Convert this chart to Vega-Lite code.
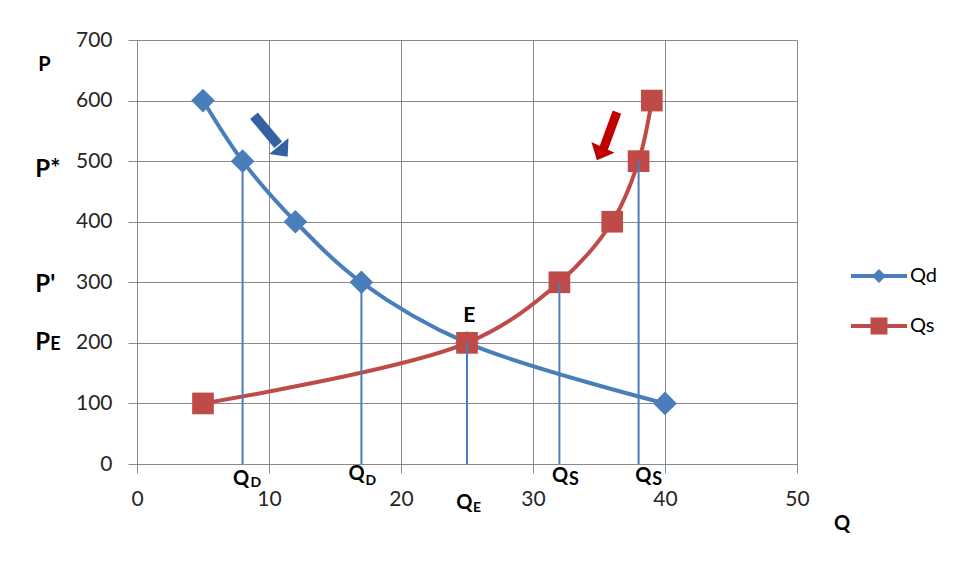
{
  "$schema": "https://vega.github.io/schema/vega-lite/v6.json",
  "width": 660,
  "height": 424,
  "autosize": {"type": "none"},
  "padding": {"left": 137, "top": 40, "right": 158, "bottom": 117},
  "background": "white",
  "config": {
    "font": "Lato",
    "view": {"stroke": null},
    "axis": {
      "gridColor": "#8A8A8A", "gridWidth": 1, "gridOpacity": 1,
      "domainColor": "#8A8A8A", "domainWidth": 1,
      "tickColor": "#8A8A8A", "tickSize": 9, "tickWidth": 1,
      "labelFont": "Lato", "labelFontSize": 21, "labelColor": "#262626"
    }
  },
  "datasets": {
    "curves": [
      {"series": "Qd", "q": 5, "p": 600}, {"series": "Qd", "q": 8, "p": 500}, {"series": "Qd", "q": 12, "p": 400},
      {"series": "Qd", "q": 17, "p": 300}, {"series": "Qd", "q": 25, "p": 200}, {"series": "Qd", "q": 40, "p": 100},
      {"series": "Qs", "q": 5, "p": 100}, {"series": "Qs", "q": 25, "p": 200}, {"series": "Qs", "q": 32, "p": 300},
      {"series": "Qs", "q": 36, "p": 400}, {"series": "Qs", "q": 38, "p": 500}, {"series": "Qs", "q": 39, "p": 600}
    ],
    "drops": [
      {"q": 8, "p": 500}, {"q": 17, "p": 300}, {"q": 25, "p": 200}, {"q": 32, "p": 300}, {"q": 38, "p": 500}
    ],
    "arrowBodies": [
      {"shift": "demand", "q": 8.86, "p": 575, "q2": 10.7, "p2": 527},
      {"shift": "supply", "q": 36.36, "p": 581, "q2": 35.33, "p2": 520}
    ],
    "arrowHeads": [
      {"shift": "demand", "q": 11.08, "p": 516},
      {"shift": "supply", "q": 35.07, "p": 512}
    ],
    "notes": [
      {"group": "pTop", "text": "P", "q": -7.48, "p": 648},
      {"group": "pBig", "text": "P*", "q": -7.7, "p": 474},
      {"group": "pBig", "text": "P'", "q": -7.7, "p": 284.5},
      {"group": "pBig", "text": "P", "q": -7.7, "p": 188},
      {"group": "sub18", "text": "E", "q": -6.57, "p": 188},
      {"group": "q", "text": "Q", "q": 7.27, "p": -35},
      {"group": "q", "text": "Q", "q": 16.03, "p": -27},
      {"group": "q", "text": "Q", "q": 24.19, "p": -75},
      {"group": "q", "text": "Q", "q": 31.44, "p": -30},
      {"group": "q", "text": "Q", "q": 37.75, "p": -30},
      {"group": "q", "text": "Q", "q": 52.8, "p": -109.5},
      {"group": "sub14", "text": "D", "q": 8.6, "p": -37.5},
      {"group": "sub14", "text": "D", "q": 17.32, "p": -34.7},
      {"group": "sub14", "text": "E", "q": 25.45, "p": -78.7},
      {"group": "sub18", "text": "S", "q": 32.72, "p": -34.7},
      {"group": "sub18", "text": "S", "q": 39.03, "p": -34.7},
      {"group": "eq", "text": "E", "q": 25.17, "p": 235}
    ]
  },
  "layer": [
    {
      "data": {"name": "curves"},
      "mark": {"type": "line", "interpolate": "catmull-rom", "strokeWidth": 4},
      "encoding": {
        "x": {"field": "q", "type": "quantitative", "title": null,
              "scale": {"domain": [0, 50], "nice": false, "zero": false},
              "axis": {"values": [0, 10, 20, 30, 40, 50], "labelPadding": 15, "labelFlush": false, "labelOverlap": false}},
        "y": {"field": "p", "type": "quantitative", "title": null,
              "scale": {"domain": [0, 700], "nice": false, "zero": false},
              "axis": {"values": [0, 100, 200, 300, 400, 500, 600, 700], "labelPadding": 16, "labelOverlap": false}},
        "stroke": {"field": "series", "type": "nominal",
                   "scale": {"domain": ["Qs", "Qd"], "range": ["#BE4B48", "#4A7EBB"]}, "legend": null}
      }
    },
    {
      "data": {"name": "curves"},
      "mark": {"type": "point", "filled": true, "opacity": 1, "size": 0},
      "encoding": {
        "x": {"field": "q", "type": "quantitative"},
        "y": {"field": "p", "type": "quantitative"},
        "color": {"field": "series", "type": "nominal",
                  "scale": {"domain": ["Qd", "Qs"], "range": ["#4A7EBB", "#BE4B48"]},
                  "legend": {
                    "title": null, "orient": "none", "legendX": 732, "legendY": 226, "padding": 0,
                    "rowPadding": 30, "labelOffset": 21, "labelFontSize": 20, "labelColor": "#000000",
                    "labelFont": "Lato", "symbolStrokeWidth": 0, "symbolSize": 196, "symbolOpacity": 1
                  }},
        "shape": {"field": "series", "type": "nominal",
                  "scale": {"domain": ["Qd", "Qs"], "range": [
                    "M-4,-0.29L-0.71,-0.29L0,-1L0.71,-0.29L4,-0.29L4,0.29L0.71,0.29L0,1L-0.71,0.29L-4,0.29Z",
                    "M-4,-0.29L-1.21,-0.29L-1.21,-1.21L1.21,-1.21L1.21,-0.29L4,-0.29L4,0.29L1.21,0.29L1.21,1.21L-1.21,1.21L-1.21,0.29L-4,0.29Z"
                  ]}}
      }
    },
    {
      "data": {"name": "curves"},
      "transform": [{"filter": "datum.series === 'Qd'"}],
      "mark": {"type": "point", "filled": true, "opacity": 1, "size": 560, "shape": "diamond", "color": "#4A7EBB"},
      "encoding": {
        "x": {"field": "q", "type": "quantitative"},
        "y": {"field": "p", "type": "quantitative"}
      }
    },
    {
      "data": {"name": "curves"},
      "transform": [{"filter": "datum.series === 'Qs'"}],
      "mark": {"type": "point", "filled": true, "opacity": 1, "size": 470, "shape": "square", "color": "#BE4B48"},
      "encoding": {
        "x": {"field": "q", "type": "quantitative"},
        "y": {"field": "p", "type": "quantitative"}
      }
    },
    {
      "data": {"name": "drops"},
      "mark": {"type": "rule", "color": "#4A7EBB", "strokeWidth": 2},
      "encoding": {
        "x": {"field": "q", "type": "quantitative"},
        "y": {"field": "p", "type": "quantitative"},
        "y2": {"datum": 0}
      }
    },
    {
      "data": {"name": "arrowBodies"},
      "transform": [{"filter": "datum.shift === 'demand'"}],
      "mark": {"type": "rule", "color": "#3462A0", "strokeWidth": 10, "strokeCap": "butt"},
      "encoding": {
        "x": {"field": "q", "type": "quantitative"}, "y": {"field": "p", "type": "quantitative"},
        "x2": {"field": "q2"}, "y2": {"field": "p2"}
      }
    },
    {
      "data": {"name": "arrowBodies"},
      "transform": [{"filter": "datum.shift === 'supply'"}],
      "mark": {"type": "rule", "color": "#C00000", "strokeWidth": 9, "strokeCap": "butt"},
      "encoding": {
        "x": {"field": "q", "type": "quantitative"}, "y": {"field": "p", "type": "quantitative"},
        "x2": {"field": "q2"}, "y2": {"field": "p2"}
      }
    },
    {
      "data": {"name": "arrowHeads"},
      "transform": [{"filter": "datum.shift === 'demand'"}],
      "mark": {"type": "point", "shape": "M0,-0.56L1,0.56L-1,0.56Z", "size": 625, "angle": 140.7, "filled": true, "opacity": 1, "color": "#3462A0"},
      "encoding": {"x": {"field": "q", "type": "quantitative"}, "y": {"field": "p", "type": "quantitative"}}
    },
    {
      "data": {"name": "arrowHeads"},
      "transform": [{"filter": "datum.shift === 'supply'"}],
      "mark": {"type": "point", "shape": "M0,-0.56L1,0.56L-1,0.56Z", "size": 650, "angle": 205, "filled": true, "opacity": 1, "color": "#C00000"},
      "encoding": {"x": {"field": "q", "type": "quantitative"}, "y": {"field": "p", "type": "quantitative"}}
    },
    {
      "data": {"name": "notes"},
      "transform": [{"filter": "datum.group === 'pTop'"}],
      "mark": {"type": "text", "font": "Lato", "fontWeight": "bold", "fontSize": 20, "align": "left", "baseline": "alphabetic", "color": "#000000"},
      "encoding": {"x": {"field": "q", "type": "quantitative"}, "y": {"field": "p", "type": "quantitative"}, "text": {"field": "text"}}
    },
    {
      "data": {"name": "notes"},
      "transform": [{"filter": "datum.group === 'pBig'"}],
      "mark": {"type": "text", "font": "Lato", "fontWeight": "bold", "fontSize": 24, "align": "left", "baseline": "alphabetic", "color": "#000000"},
      "encoding": {"x": {"field": "q", "type": "quantitative"}, "y": {"field": "p", "type": "quantitative"}, "text": {"field": "text"}}
    },
    {
      "data": {"name": "notes"},
      "transform": [{"filter": "datum.group === 'q'"}],
      "mark": {"type": "text", "font": "Lato", "fontWeight": "bold", "fontSize": 20, "align": "left", "baseline": "alphabetic", "color": "#000000"},
      "encoding": {"x": {"field": "q", "type": "quantitative"}, "y": {"field": "p", "type": "quantitative"}, "text": {"field": "text"}}
    },
    {
      "data": {"name": "notes"},
      "transform": [{"filter": "datum.group === 'sub14'"}],
      "mark": {"type": "text", "font": "Lato", "fontWeight": "bold", "fontSize": 14, "align": "left", "baseline": "alphabetic", "color": "#000000"},
      "encoding": {"x": {"field": "q", "type": "quantitative"}, "y": {"field": "p", "type": "quantitative"}, "text": {"field": "text"}}
    },
    {
      "data": {"name": "notes"},
      "transform": [{"filter": "datum.group === 'sub18'"}],
      "mark": {"type": "text", "font": "Lato", "fontWeight": "bold", "fontSize": 18, "align": "left", "baseline": "alphabetic", "color": "#000000"},
      "encoding": {"x": {"field": "q", "type": "quantitative"}, "y": {"field": "p", "type": "quantitative"}, "text": {"field": "text"}}
    },
    {
      "data": {"name": "notes"},
      "transform": [{"filter": "datum.group === 'eq'"}],
      "mark": {"type": "text", "font": "Lato", "fontWeight": "bold", "fontSize": 21, "align": "center", "baseline": "alphabetic", "color": "#000000"},
      "encoding": {"x": {"field": "q", "type": "quantitative"}, "y": {"field": "p", "type": "quantitative"}, "text": {"field": "text"}}
    }
  ]
}
